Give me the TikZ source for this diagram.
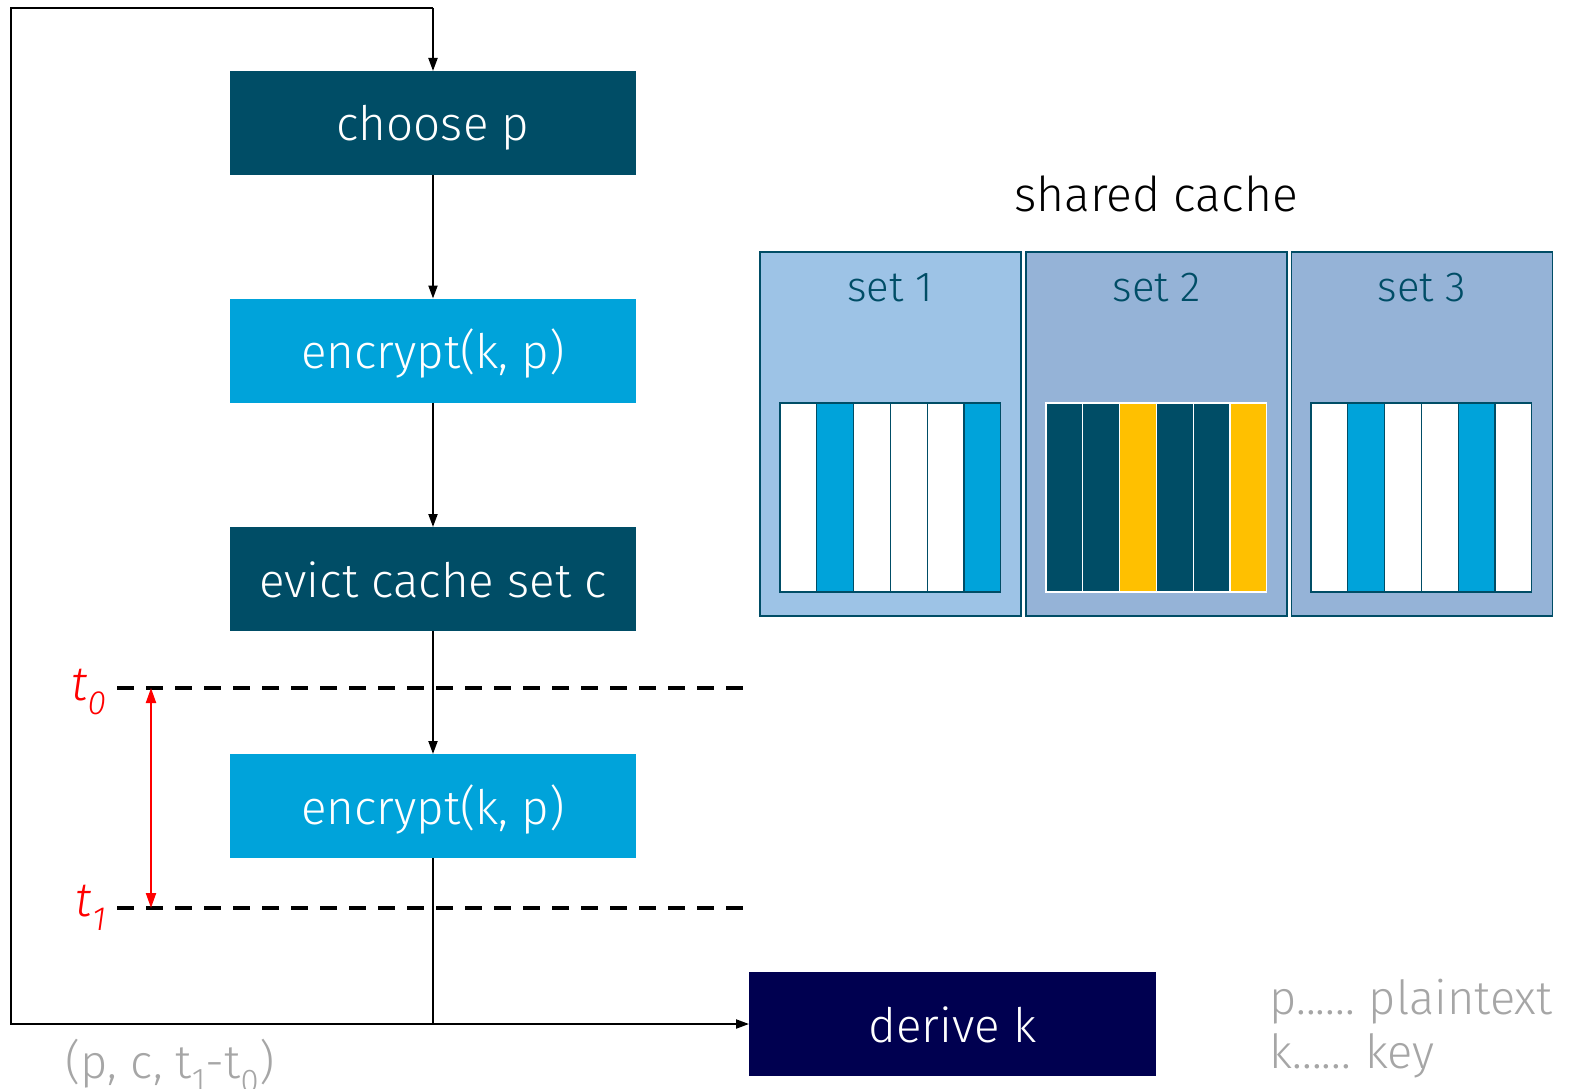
\documentclass[tikz,border=0pt]{standalone}
\usepackage{fontspec}
\setmainfont{Fira Sans Light}[ItalicFont={Fira Sans Light Italic}]
\usetikzlibrary{arrows.meta}
\definecolor{dteal}{RGB}{0,77,102}
\definecolor{lblue}{RGB}{0,163,218}
\definecolor{navy}{RGB}{0,0,80}
\definecolor{set1c}{RGB}{157,195,230}
\definecolor{set23c}{RGB}{149,179,215}
\definecolor{gold}{RGB}{255,192,0}
\definecolor{greytxt}{RGB}{166,166,166}
\tikzset{
  box/.style={rectangle, minimum width=406pt, minimum height=104pt, inner sep=0pt, outer sep=0pt, text=white, font=\fontsize{47.5}{56}\selectfont, text height=36pt, text depth=0pt},
  conn/.style={draw=black, line width=2pt, -{Triangle[length=13pt,width=9pt]}},
  plain/.style={draw=black, line width=1.6pt},
  dline/.style={draw=black, line width=3.8pt, dash pattern=on 17pt off 12pt},
  setbox/.style={rectangle, draw=dteal, line width=1.2pt, minimum width=261pt, minimum height=364pt, inner sep=0pt},
  setlbl/.style={text=dteal, font=\fontsize{42}{50}\selectfont},
  cellA/.style={draw=dteal, line width=1.2pt},
  cellB/.style={draw=white, line width=1.2pt},
  tlbl/.style={text=red, font=\fontsize{48}{56}\selectfont\itshape},
  gtxt/.style={text=greytxt, font=\fontsize{47}{55}\selectfont}
}
\begin{document}
\begin{tikzpicture}[x=1pt,y=-1pt]
\useasboundingbox (0,0) rectangle (1576,1089);
% flow boxes
\node[box, fill=dteal] (choose) at (433,123) {choose p};
\node[box, fill=lblue] (enc1) at (433,350.5) {encrypt(k, p)};
\node[box, fill=dteal] (evict) at (433,579) {evict cache set c};
\node[box, fill=lblue] (enc2) at (433,806) {encrypt(k, p)};
\node[box, fill=navy, minimum width=407pt] (derive) at (952.5,1024) {derive k};
% connectors
\draw[conn] (choose) -- (enc1);
\draw[conn] (enc1) -- (evict);
\draw[conn] (evict) -- (enc2);
\coordinate (join) at (433,1024);
\coordinate (lbl) at (11,1024);
\coordinate (ltl) at (11,8);
\coordinate (ltr) at (433,8);
\draw[plain, line width=1.3pt] (enc2.south) -- (join);
\draw[plain] (join) -- (lbl) -- (ltl) -- (ltr);
\draw[conn] (ltr) -- (choose.north);
\draw[conn] (join) -- (derive.west);
% time lines
\coordinate (d0a) at (117,688);
\coordinate (d0b) at (745,688);
\coordinate (d1a) at (117,908);
\coordinate (d1b) at (745,908);
\draw[dline] (d0a) -- (d0b);
\draw[dline] (d1a) -- (d1b);
\coordinate (r0) at (151,688);
\coordinate (r1) at (151,908);
\draw[draw=red, line width=2pt, {Triangle[length=15pt,width=10pt]}-{Triangle[length=15pt,width=10pt]}] (r0) -- (r1);
\node[tlbl, anchor=east] (t0) at (110,692) {t\textsubscript{0}};
\node[tlbl, anchor=east] (t1) at (110,908) {t\textsubscript{1}};
\node[gtxt] (tuple) at (170,1066) {(p, c, t\textsubscript{1}-t\textsubscript{0})};
% shared cache
\node[font=\fontsize{48}{56}\selectfont] (shared) at (1156,194) {shared cache};
\node[setbox, fill=set1c] (s1) at (890.5,434) {};
\node[setbox, fill=set23c] (s2) at (1156.5,434) {};
\node[setbox, fill=set23c] (s3) at (1422,434) {};
\node[setlbl] (l1) at (890,288) {set 1};
\node[setlbl] (l2) at (1157,288) {set 2};
\node[setlbl] (l3) at (1422,288) {set 3};
% cells
\foreach \i/\c in {0/white,1/lblue,2/white,3/white,4/white,5/lblue}{
  \filldraw[cellA, fill=\c] (780+\i*36.8,403) rectangle ++(36.8,189);
}
\foreach \i/\c in {0/dteal,1/dteal,2/gold,3/dteal,4/dteal,5/gold}{
  \filldraw[cellB, fill=\c] (1046+\i*36.8,403) rectangle ++(36.8,189);
}
\foreach \i/\c in {0/white,1/lblue,2/white,3/white,4/lblue,5/white}{
  \filldraw[cellA, fill=\c] (1311+\i*36.8,403) rectangle ++(36.8,189);
}
% legend
\node[gtxt, anchor=west] (lp) at (1266,1002) {p......\hspace{0.3em}plaintext};
\node[gtxt, anchor=west] (lk) at (1266,1056) {k......\hspace{0.3em}key};
\end{tikzpicture}
\end{document}
